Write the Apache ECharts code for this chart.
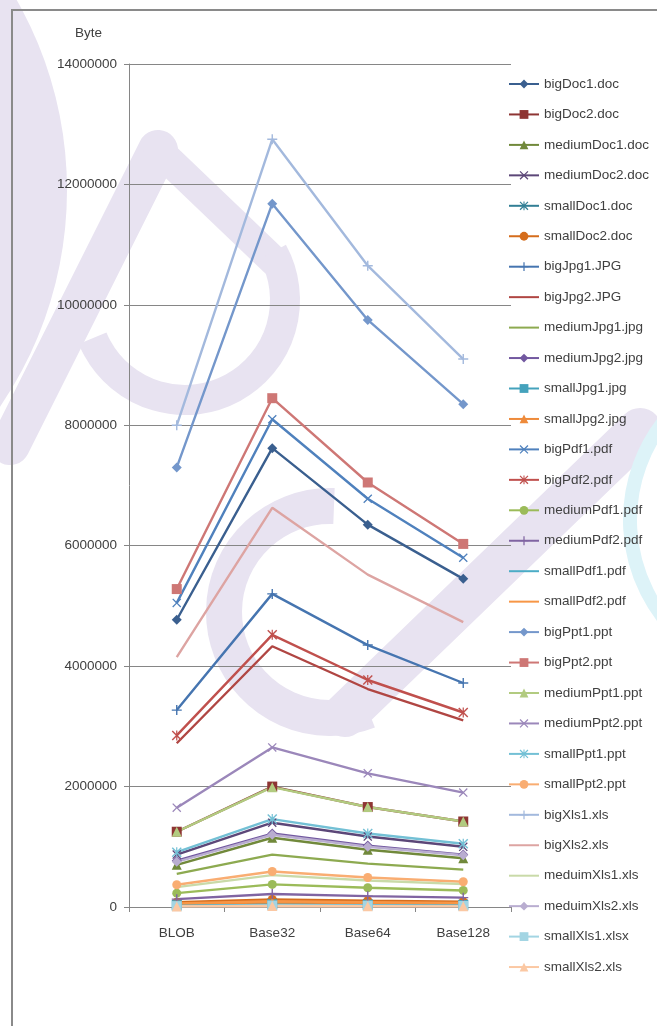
<!DOCTYPE html>
<html>
<head>
<meta charset="utf-8">
<script src="https://cdn.jsdelivr.net/npm/echarts@6/dist/echarts.min.js"></script>
<style>
  html, body { margin: 0; padding: 0; background: #ffffff; }
  #chart { width: 657px; height: 1026px; }
</style>
</head>
<body>
<div id="chart"></div>
<script>
// Encoding methods compared along the x axis
const categories = ['BLOB', 'Base32', 'Base64', 'Base128'];

// Stored size in bytes per file, one row per file, columns follow categories
const docNames = ['bigDoc1.doc', 'bigDoc2.doc', 'mediumDoc1.doc', 'mediumDoc2.doc', 'smallDoc1.doc', 'smallDoc2.doc'];
const docValues = [
  [4770000, 7620000, 6350000, 5450000],
  [1250000, 2000000, 1660000, 1420000],
  [700000, 1150000, 950000, 810000],
  [870000, 1400000, 1170000, 1000000],
  [40000, 65000, 54000, 47000],
  [80000, 125000, 105000, 90000]
];

const jpgNames = ['bigJpg1.JPG', 'bigJpg2.JPG', 'mediumJpg1.jpg', 'mediumJpg2.jpg', 'smallJpg1.jpg', 'smallJpg2.jpg'];
const jpgValues = [
  [3270000, 5200000, 4350000, 3720000],
  [2720000, 4330000, 3620000, 3100000],
  [550000, 870000, 720000, 620000],
  [770000, 1220000, 1020000, 870000],
  [30000, 45000, 38000, 33000],
  [50000, 80000, 67000, 57000]
];

const pdfNames = ['bigPdf1.pdf', 'bigPdf2.pdf', 'mediumPdf1.pdf', 'mediumPdf2.pdf', 'smallPdf1.pdf', 'smallPdf2.pdf'];
const pdfValues = [
  [5050000, 8100000, 6780000, 5800000],
  [2850000, 4520000, 3770000, 3230000],
  [230000, 375000, 320000, 275000],
  [130000, 215000, 180000, 155000],
  [20000, 32000, 27000, 23000],
  [60000, 95000, 80000, 68000]
];

const pptNames = ['bigPpt1.ppt', 'bigPpt2.ppt', 'mediumPpt1.ppt', 'mediumPpt2.ppt', 'smallPpt1.ppt', 'smallPpt2.ppt'];
const pptValues = [
  [7300000, 11680000, 9750000, 8350000],
  [5280000, 8450000, 7050000, 6030000],
  [1250000, 1990000, 1660000, 1420000],
  [1650000, 2650000, 2220000, 1900000],
  [910000, 1460000, 1220000, 1050000],
  [370000, 590000, 490000, 420000]
];

const xlsNames = ['bigXls1.xls', 'bigXls2.xls', 'meduimXls1.xls', 'meduimXls2.xls', 'smallXls1.xlsx', 'smallXls2.xls'];
const xlsValues = [
  [8000000, 12750000, 10650000, 9100000],
  [4150000, 6630000, 5520000, 4730000],
  [330000, 530000, 440000, 380000],
  [750000, 1200000, 1000000, 860000],
  [15000, 25000, 21000, 18000],
  [10000, 16000, 13000, 11000]
];

// Y axis range
const yMin = 0;
const yMax = 14000000;
const yStep = 2000000;

// ---- styling ----
const FONT = 'Liberation Sans';
const TEXT = '#404040';
const AXIS = '#868686';

// Five shade rows of the six base hues, darkest first
const palette = [
  ['#3A5F8F', '#8E3533', '#71893B', '#5C4778', '#327F95', '#D56D1C'],
  ['#4675B0', '#B04643', '#8DAA50', '#7258A0', '#44A2BC', '#EE8A3A'],
  ['#4F81BD', '#C0504D', '#9BBB59', '#8064A2', '#4BACC6', '#F79646'],
  ['#7497CB', '#CE7775', '#B2CB80', '#9B87BA', '#73C0D5', '#F9AD72'],
  ['#A3B9DD', '#DDA4A2', '#C9DAA8', '#B9ADD0', '#A3D5E3', '#FBC8A3']
];

const X_MARK = 'path://M0,1L1,0L5,4L9,0L10,1L6,5L10,9L9,10L5,6L1,10L0,9L4,5Z';
const STAR_MARK = 'path://M0,1L1,0L5,4L9,0L10,1L6,5L10,9L9,10L5,6L1,10L0,9L4,5Z M4.4,0L5.6,0L5.6,10L4.4,10Z';
const PLUS_MARK = 'path://M4.3,0L5.7,0L5.7,4.3L10,4.3L10,5.7L5.7,5.7L5.7,10L4.3,10L4.3,5.7L0,5.7L0,4.3L4.3,4.3Z';
// Legend swatch for series drawn without markers: a plain stroke
const BARE_LINE = 'path://M0,0L30,0L30,2L0,2Z';
const markers = [
  ['diamond', 10], ['rect', 10], ['triangle', 10], [X_MARK, 9], [STAR_MARK, 10],
  ['circle', 9], [PLUS_MARK, 10], ['none', 0], ['none', 0]
];

const names = [].concat(docNames, jpgNames, pdfNames, pptNames, xlsNames);
const rows = [].concat(docValues, jpgValues, pdfValues, pptValues, xlsValues);

function colorOf(i) { return palette[Math.floor(i / 6)][i % 6]; }

const series = names.map(function (name, i) {
  const color = colorOf(i);
  const mk = markers[i % 9];
  return {
    name: name,
    type: 'line',
    data: rows[i],
    symbol: mk[0],
    symbolSize: mk[1],
    showSymbol: mk[0] !== 'none',
    color: color,
    lineStyle: { color: color, width: 2.4 },
    itemStyle: { color: color },
    emphasis: { disabled: true },
    animation: false
  };
});

const legendData = names.map(function (name, i) {
  return markers[i % 9][0] === 'none' ? { name: name, icon: BARE_LINE } : { name: name };
});

// Faint lavender logo shapes in the background
const LAV = '#E8E3F1';
const watermark = [
  { type: 'circle', z: -10, silent: true, shape: { cx: -317, cy: 190, r: 384 }, style: { fill: LAV } },
  { type: 'line', z: -10, silent: true, shape: { x1: 158, y1: 150, x2: 10, y2: 445 }, style: { stroke: LAV, lineWidth: 40, lineCap: 'round' } },
  { type: 'line', z: -10, silent: true, shape: { x1: 158, y1: 150, x2: 275, y2: 262 }, style: { stroke: LAV, lineWidth: 30, lineCap: 'round' } },
  { type: 'arc', z: -10, silent: true, shape: { cx: 185, cy: 300, r: 100, startAngle: -0.5, endAngle: 2.75, clockwise: true }, style: { stroke: LAV, lineWidth: 30, fill: null } },
  { type: 'arc', z: -10, silent: true, shape: { cx: 330, cy: 612, r: 106, startAngle: 1.2, endAngle: 4.75, clockwise: true }, style: { stroke: LAV, lineWidth: 36, fill: null } },
  { type: 'line', z: -10, silent: true, shape: { x1: 345, y1: 715, x2: 640, y2: 430 }, style: { stroke: LAV, lineWidth: 44, lineCap: 'round' } },
  { type: 'arc', z: -10, silent: true, shape: { cx: 790, cy: 520, r: 160, startAngle: 2.3, endAngle: 3.95, clockwise: true }, style: { stroke: '#DDF3F8', lineWidth: 14, fill: null } }
];

const chart = echarts.init(document.getElementById('chart'), null, { renderer: 'canvas' });
chart.setOption({
  backgroundColor: '#ffffff',
  animation: false,
  textStyle: { fontFamily: FONT },
  graphic: watermark.concat([
    {
      type: 'rect', silent: true, z: 50,
      shape: { x: 12, y: 10, width: 700, height: 1100 },
      style: { fill: null, stroke: '#8A8A8A', lineWidth: 2 }
    },
    {
      type: 'text', silent: true, z: 50, left: 75, top: 26,
      style: { text: 'Byte', fill: TEXT, font: '13.5px ' + FONT }
    }
  ]),
  grid: { left: 129, right: 146, top: 64, bottom: 119, containLabel: false },
  legend: {
    orient: 'vertical',
    left: 508,
    top: 77,
    padding: 0,
    itemWidth: 30,
    itemHeight: 11,
    itemGap: 16.45,
    symbolKeepAspect: true,
    selectedMode: false,
    textStyle: { color: TEXT, fontSize: 13.5, fontFamily: FONT, lineHeight: 14 },
    data: legendData
  },
  xAxis: {
    type: 'category',
    data: categories,
    boundaryGap: true,
    axisLine: { show: true, lineStyle: { color: AXIS, width: 1 } },
    axisTick: { show: true, length: 5, lineStyle: { color: AXIS } },
    axisLabel: { color: TEXT, fontSize: 13.5, fontFamily: FONT, margin: 19 },
    splitLine: { show: false }
  },
  yAxis: {
    type: 'value',
    min: yMin,
    max: yMax,
    interval: yStep,
    axisLine: { show: true, lineStyle: { color: AXIS, width: 1 } },
    axisTick: { show: true, length: 5, lineStyle: { color: AXIS } },
    axisLabel: {
      color: TEXT, fontSize: 13.5, fontFamily: FONT, margin: 12,
      formatter: function (v) { return String(v); }
    },
    splitLine: { show: true, lineStyle: { color: AXIS, width: 1 } }
  },
  series: series
});
</script>
</body>
</html>
